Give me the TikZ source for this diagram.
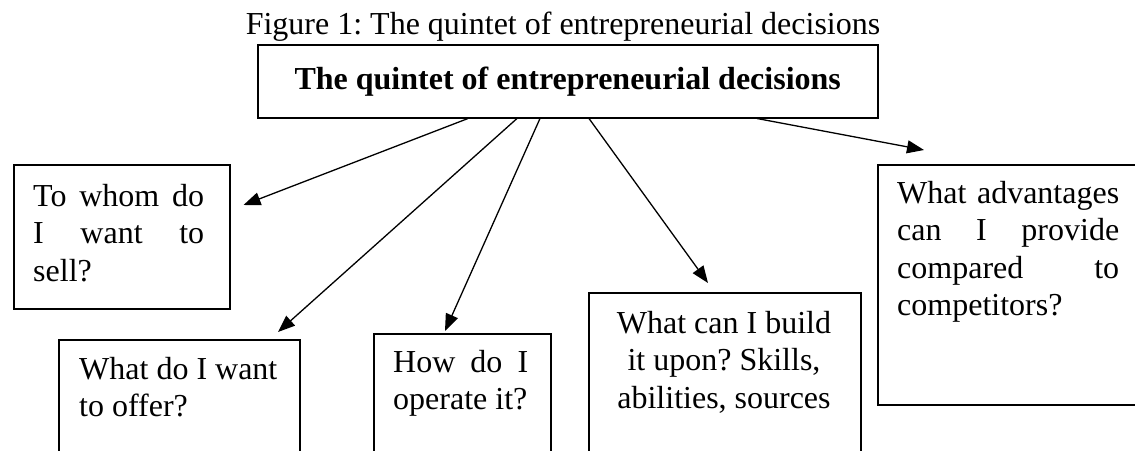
\documentclass[tikz,border=0pt]{standalone}
\usepackage{fontspec}
\setmainfont{Liberation Serif}
\usetikzlibrary{arrows.meta,calc}
\frenchspacing
% stacked lines of a box text; the baseline of the whole is that of its first line
\newcommand\qlines[1]{\vtop{\baselineskip=37.5pt\lineskiplimit=-100pt #1}}
\begin{document}
\begin{tikzpicture}[x=1pt,y=-1pt,
  qbox/.style={draw, line width=1.5pt, inner sep=0pt, anchor=north west},
  qtext/.style={inner sep=0pt, anchor=base west, font=\fontsize{32}{37.5}\selectfont},
  link/.style={line width=1.3pt, -{Triangle[length=17pt,width=13pt]}}]
\useasboundingbox (0,0) rectangle (1135,450);
\clip (0,0) rectangle (1135,450);

% caption and the central box
\node[inner sep=0pt, anchor=base, font=\fontsize{32}{38}\selectfont] (caption) at (563,34)
  {Figure 1: The quintet of entrepreneurial decisions};
\node[qbox, minimum width=620pt, minimum height=73pt,
      font=\bfseries\fontsize{32}{38}\selectfont] (main) at (257,44)
  {The quintet of entrepreneurial decisions};

% the five decision boxes
\node[qbox, minimum width=216pt, minimum height=144pt] (whom) at (13,164) {};
\node[qbox, minimum width=241pt, minimum height=140pt] (offer) at (58,339) {};
\node[qbox, minimum width=177pt, minimum height=140pt] (how) at (373,333) {};
\node[qbox, minimum width=272pt, minimum height=180pt] (build) at (588,292) {};
\node[qbox, minimum width=280pt, minimum height=240pt] (adv) at (877,164) {};

\node[qtext] (whom-t) at ($(whom.north west)+(20,42)$) {\qlines{%
  \hbox to 171pt{To\hfil whom\hfil do}
  \hbox to 171pt{I\hfil want\hfil to}
  \hbox{sell?}}};
\node[qtext] (offer-t) at ($(offer.north west)+(21,40)$) {\qlines{%
  \hbox{What do I want}
  \hbox{to offer?}}};
\node[qtext] (how-t) at ($(how.north west)+(20,39)$) {\qlines{%
  \hbox to 135pt{How\hfil do\hfil I}
  \hbox{operate it?}}};
\node[qtext, anchor=base] (build-t) at ($(build.north west)+(136,41)$) {\qlines{%
  \hbox to 0pt{\hss What can I build\hss}
  \hbox to 0pt{\hss it upon? Skills,\hss}
  \hbox to 0pt{\hss abilities, sources\hss}}};
\node[qtext] (adv-t) at ($(adv.north west)+(20,39)$) {\qlines{%
  \hbox to 222pt{What\hfil advantages}
  \hbox to 222pt{can\hfil I\hfil provide}
  \hbox to 222pt{compared\hfil to}
  \hbox{competitors?}}};

% arrow ends, just short of each box
\coordinate (toWhom)  at ($(whom.north east)+(13,41)$);
\coordinate (toOffer) at ($(offer.north west)+(220,-7)$);
\coordinate (toHow)   at ($(how.north west)+(72,-2)$);
\coordinate (toBuild) at ($(build.north west)+(120,-9)$);
\coordinate (toAdv)   at ($(adv.north west)+(47,-14)$);

\draw[link] ($(main.south west)+(211,0)$) -- (toWhom);
\draw[link] ($(main.south west)+(260,0)$) -- (toOffer);
\draw[link] ($(main.south west)+(283,0)$) -- (toHow);
\draw[link] ($(main.south west)+(332,0)$) -- (toBuild);
\draw[link] ($(main.south west)+(500,0)$) -- (toAdv);
\end{tikzpicture}
\end{document}
